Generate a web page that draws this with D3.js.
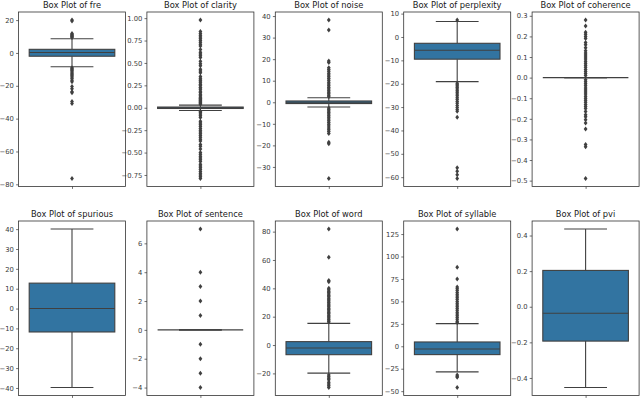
<!DOCTYPE html>
<html>
<head>
<meta charset="utf-8">
<script src="https://cdn.jsdelivr.net/npm/d3@7"></script>
<style>
  body { margin: 0; background: #fff; }
  svg { display: block; }
  text { font-family: "DejaVu Sans", sans-serif; }
</style>
</head>
<body>
<svg width="640" height="398"></svg>
<script>

// one entry per panel, row by row
var names = ["fre", "clarity", "noise", "perplexity", "coherence",
             "spurious", "sentence", "word", "syllable", "pvi"];

var q1s     = [-2.0, -0.008, -0.6, -9.5, 0,  -11.8, 0, -6.8, -9.3, -0.193];
var medians = [0.3,   0,      0,   -5.7, 0,   0,    0, -2.1, -3.0, -0.037];
var q3s     = [2.2,   0.008,  0.6, -2.7, 0,   12.8, 0,  2.4,  4.8,  0.204];
var whiskLo = [-8.4, -0.03,  -2.2, -19.1, 0, -39.8, 0, -19.8, -28.5, -0.454];
var whiskHi = [8.6,   0.03,   2.1,  6.6,  0,  40.1, 0,  15.3,  25.2,  0.437];

var fliersFre = [20.1, 19.4, 11.8, 11.2, 10.7, 10.3, 9.9, 9.4,
  -9.0, -9.6, -10.2, -10.9, -11.6, -12.3, -13.1, -13.9, -14.7, -15.6, -16.6, -17.5,
  -20.5, -21.8, -23.6, -24.3, -29.6, -30.8, -76.5];
var fliersClarity = [0.98, 0.85, 0.83, 0.81, 0.79, 0.77, 0.75, 0.73, 0.71, 0.69, 0.65,
  0.62, 0.60, 0.58, 0.56, 0.52, 0.49, 0.47, 0.43, 0.41, 0.39, 0.35, 0.33, 0.31, 0.30,
  0.28, 0.26, 0.25, 0.23, 0.22, 0.20, 0.18, 0.17, 0.15, 0.14, 0.12, 0.11, 0.10, 0.09,
  0.08, 0.07, 0.06, 0.05, 0.04,
  -0.04, -0.05, -0.07, -0.09, -0.11, -0.15, -0.17, -0.19, -0.21, -0.23, -0.25, -0.27,
  -0.29, -0.31, -0.33, -0.35, -0.37, -0.41, -0.43, -0.46, -0.50, -0.52, -0.54, -0.56,
  -0.58, -0.60, -0.63, -0.65, -0.67, -0.69, -0.71, -0.73, -0.75, -0.77, -0.79];
var fliersNoise = [38.2, 33.5, 19.2, 18.5, 16.0, 15.2, 14.4, 13.5, 12.6, 11.8, 11.0,
  10.2, 9.3, 8.5, 7.7, 6.9, 6.1, 5.4, 4.6, 3.9, 3.2, 2.6,
  -2.7, -3.3, -4.0, -4.7, -5.4, -6.2, -7.0, -7.8, -8.6, -9.4, -10.2, -11.0, -11.9,
  -12.8, -13.6, -14.5, -18.6, -19.3, -35.4];
var fliersPerplexity = [7.3, -19.8, -20.4, -21.0, -21.6, -22.3, -23.0, -23.7, -24.4,
  -25.2, -26.0, -26.8, -27.6, -28.4, -29.3, -30.2, -31.0, -31.8, -34.4,
  -56.0, -57.5, -59.0, -60.6];
var fliersCoherence = [0.28, 0.25, 0.22, 0.21, 0.20, 0.19, 0.17, 0.16, 0.145, 0.13,
  0.12, 0.11, 0.10, 0.09, 0.08, 0.07, 0.06, 0.05, 0.04, 0.03, 0.02, 0.01,
  -0.01, -0.02, -0.03, -0.04, -0.05, -0.06, -0.07, -0.08, -0.09, -0.10, -0.11, -0.12,
  -0.13, -0.14, -0.15, -0.165, -0.18, -0.19, -0.205, -0.22, -0.25, -0.325, -0.335, -0.49];
var fliersSpurious = [];
var fliersSentence = [7, 4, 3, 2, 1, -1, -2, -3, -4];
var fliersWord = [81.9, 61.9, 45.5, 44.6, 40, 39, 38, 37, 36, 35, 34, 33, 32, 31, 30,
  29, 28, 27, 26, 25, 24, 23, 22, 21, 20, 19, 18, 17, 16.2,
  -21.2, -22.3, -23.4, -24.5, -26.2, -27.4, -28.8, -30.0];
var fliersSyllable = [130.7, 88, 75, 66, 64, 62, 60, 58, 56, 54, 52, 50, 48, 46, 44,
  42, 40, 38, 36, 34, 32, 30, 28, 26.5, -32, -33.5, -34.5, -46];
var fliersPvi = [];

var fliers = [fliersFre, fliersClarity, fliersNoise, fliersPerplexity, fliersCoherence,
              fliersSpurious, fliersSentence, fliersWord, fliersSyllable, fliersPvi];

// y tick labels
var ticksFre = [20, 0, -20, -40, -60, -80];
var ticksClarity = [1.0, 0.75, 0.5, 0.25, 0, -0.25, -0.5, -0.75];
var ticksNoise = [40, 30, 20, 10, 0, -10, -20, -30];
var ticksPerplexity = [10, 0, -10, -20, -30, -40, -50, -60];
var ticksCoherence = [0.3, 0.2, 0.1, 0, -0.1, -0.2, -0.3, -0.4, -0.5];
var ticksSpurious = [40, 30, 20, 10, 0, -10, -20, -30, -40];
var ticksSentence = [6, 4, 2, 0, -2, -4];
var ticksWord = [80, 60, 40, 20, 0, -20];
var ticksSyllable = [125, 100, 75, 50, 25, 0, -25, -50];
var ticksPvi = [0.4, 0.2, 0, -0.2, -0.4];

var ticks = [ticksFre, ticksClarity, ticksNoise, ticksPerplexity, ticksCoherence,
             ticksSpurious, ticksSentence, ticksWord, ticksSyllable, ticksPvi];
var tickDecimals = [0, 2, 0, 0, 1, 0, 0, 0, 0, 1];

var boxColor = "#3274a1";
var lineColor = "#404040";

var panelW = 107,
    panelH = 174.5,
    colStep = 128.4,
    left0 = 18.5,
    rowTops = [12, 221];

var svg = d3.select("svg");

function drawPanel(i)
{
  var col = i % 5, row = Math.floor(i / 5);
  var g = svg.append("g")
    .attr("transform", "translate(" + (left0 + col * colStep) + "," + rowTops[row] + ")");

  // like matplotlib: data extent plus 5% margin
  var all = fliers[i].concat([whiskLo[i], whiskHi[i], q1s[i], q3s[i]]);
  var lo = d3.min(all), hi = d3.max(all);
  var pad = (hi - lo) * 0.05;

  var y = d3.scaleLinear().domain([lo - pad, hi + pad]).range([panelH, 0]);
  var x = d3.scaleLinear().domain([-0.5, 0.5]).range([0, panelW]);

  // y axis
  var ax = g.append("g")
    .call(d3.axisLeft(y).tickValues(ticks[i]).tickSize(2.4).tickPadding(2.2)
      .tickFormat(d3.format("." + tickDecimals[i] + "f")));
  ax.select(".domain").remove();
  ax.selectAll("line").attr("stroke", "#333").attr("stroke-width", 0.7);
  ax.selectAll("text").attr("font-size", "6.8px").attr("fill", "#3a3a3a")
    .attr("font-family", "DejaVu Sans");

  // x axis, one tick without label
  var bx = g.append("g")
    .attr("transform", "translate(0," + panelH + ")")
    .call(d3.axisBottom(x).tickValues([0]).tickSize(2.4).tickFormat(""));
  bx.select(".domain").remove();
  bx.selectAll("line").attr("stroke", "#333").attr("stroke-width", 0.7);

  // whiskers
  g.append("line")
    .attr("x1", x(0)).attr("x2", x(0))
    .attr("y1", y(q3s[i])).attr("y2", y(whiskHi[i]))
    .attr("stroke", lineColor).attr("stroke-width", 1.1);
  g.append("line")
    .attr("x1", x(0)).attr("x2", x(0))
    .attr("y1", y(q1s[i])).attr("y2", y(whiskLo[i]))
    .attr("stroke", lineColor).attr("stroke-width", 1.1);
  [whiskHi[i], whiskLo[i]].forEach(function(v) {
    g.append("line")
      .attr("x1", x(-0.2)).attr("x2", x(0.2))
      .attr("y1", y(v)).attr("y2", y(v))
      .attr("stroke", lineColor).attr("stroke-width", 1.1);
  });

  // box
  g.append("rect")
    .attr("x", x(-0.4))
    .attr("width", x(0.4) - x(-0.4))
    .attr("y", y(q3s[i]))
    .attr("height", Math.max(0, y(q1s[i]) - y(q3s[i])))
    .attr("fill", boxColor)
    .attr("stroke", lineColor)
    .attr("stroke-width", 1.1);

  // median
  g.append("line")
    .attr("x1", x(-0.4)).attr("x2", x(0.4))
    .attr("y1", y(medians[i])).attr("y2", y(medians[i]))
    .attr("stroke", lineColor).attr("stroke-width", 1.1);

  // outliers, thin diamonds
  g.selectAll(".flier")
    .data(fliers[i])
    .enter().append("path")
    .attr("class", "flier")
    .attr("d", "M0,-2.5L1.9,0L0,2.5L-1.9,0Z")
    .attr("transform", function(d) { return "translate(" + x(0) + "," + y(d) + ")"; })
    .attr("fill", lineColor);

  // frame
  g.append("rect")
    .attr("width", panelW).attr("height", panelH)
    .attr("fill", "none").attr("stroke", "#333").attr("stroke-width", 0.8);

  // title
  g.append("text")
    .attr("x", panelW / 2)
    .attr("y", -3.6)
    .attr("text-anchor", "middle")
    .attr("font-size", "8.3px")
    .attr("fill", "#1a1a1a")
    .text("Box Plot of " + names[i]);
}

for (var i = 0; i < names.length; i++)
{
  drawPanel(i);
}

</script>
</body>
</html>
